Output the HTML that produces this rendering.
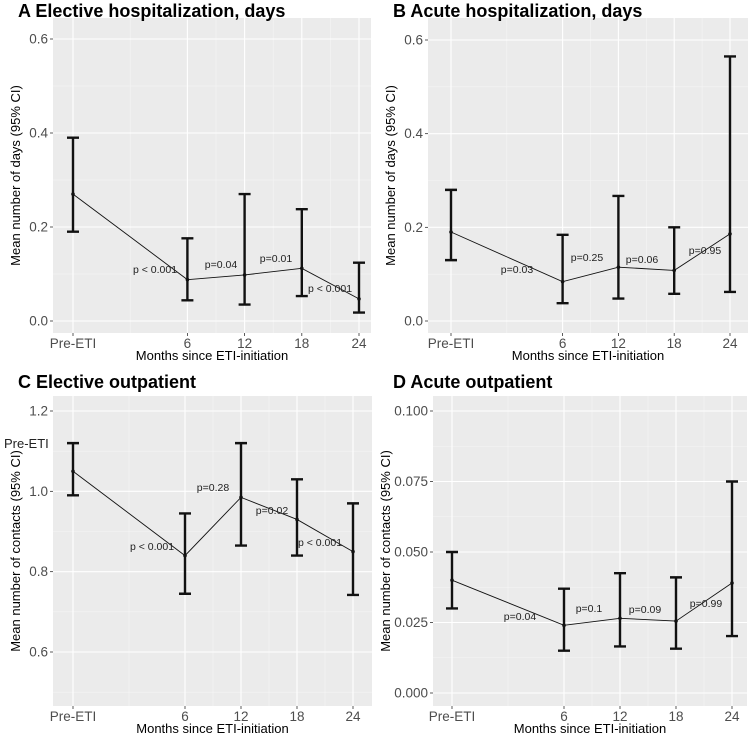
<!DOCTYPE html>
<html><head><meta charset="utf-8"><style>
body{margin:0;background:#fff;width:752px;height:737px;overflow:hidden}
svg text{font-family:"Liberation Sans",sans-serif}
</style></head><body>
<svg id="chart" width="752" height="737" viewBox="0 0 752 737" xmlns="http://www.w3.org/2000/svg"></svg>
<script>
const months = [-6, 6, 12, 18, 24];
const xTickLabels = ["Pre-ETI", "6", "12", "18", "24"];
const titles = ["A Elective hospitalization, days", "B Acute hospitalization, days", "C Elective outpatient", "D Acute outpatient"];
const yTitles = ["Mean number of days (95% CI)", "Mean number of days (95% CI)", "Mean number of contacts (95% CI)", "Mean number of contacts (95% CI)"];
const meanA = [0.27, 0.088, 0.098, 0.112, 0.047];
const lowA = [0.19, 0.044, 0.035, 0.053, 0.018];
const highA = [0.39, 0.176, 0.27, 0.238, 0.124];
const meanB = [0.19, 0.084, 0.115, 0.108, 0.186];
const lowB = [0.13, 0.038, 0.048, 0.058, 0.062];
const highB = [0.28, 0.184, 0.267, 0.2, 0.565];
const meanC = [1.05, 0.84, 0.985, 0.93, 0.85];
const lowC = [0.99, 0.745, 0.865, 0.84, 0.742];
const highC = [1.12, 0.945, 1.12, 1.03, 0.97];
const meanD = [0.04, 0.024, 0.0265, 0.0255, 0.039];
const lowD = [0.030, 0.015, 0.0165, 0.0157, 0.0202];
const highD = [0.050, 0.037, 0.0425, 0.041, 0.075];
const yTicksAB = [0, 0.2, 0.4, 0.6];
const yTickLabelsAB = ["0.0", "0.2", "0.4", "0.6"];
const yTicksC = [0.6, 0.8, 1.0, 1.2];
const yTickLabelsC = ["0.6", "0.8", "1.0", "1.2"];
const yTicksD = [0, 0.025, 0.05, 0.075, 0.1];
const yTickLabelsD = ["0.000", "0.025", "0.050", "0.075", "0.100"];
const pLabelsA = ["p < 0.001", "p=0.04", "p=0.01", "p < 0.001"];
const pLabelsB = ["p=0.03", "p=0.25", "p=0.06", "p=0.95"];
const pLabelsC = ["p < 0.001", "p=0.28", "p=0.02", "p < 0.001"];
const pLabelsD = ["p=0.04", "p=0.1", "p=0.09", "p=0.99"];

const NS = "http://www.w3.org/2000/svg";
const svg = document.getElementById("chart");
function mk(tag, attrs, parent, text) {
  const e = document.createElementNS(NS, tag);
  for (const k in attrs) e.setAttribute(k, attrs[k]);
  if (text !== undefined) e.textContent = text;
  (parent || svg).appendChild(e);
  return e;
}

const panels = [
  {id:"a", title:titles[0], yt:yTitles[0], mean:meanA, low:lowA, high:highA, ticks:yTicksAB, tl:yTickLabelsAB, p:pLabelsA,
   L:53, R:371, T:18, B:333, x0:73, x1:359, v0:0, py0:321, v1:0.6, py1:39, tx:18, ty:17,
   pPos:[[155,273],[221,268],[276,262],[330,292]]},
  {id:"b", title:titles[1], yt:yTitles[1], mean:meanB, low:lowB, high:highB, ticks:yTicksAB, tl:yTickLabelsAB, p:pLabelsB,
   L:428, R:748, T:18, B:333, x0:451, x1:730, v0:0, py0:321, v1:0.6, py1:40, tx:393, ty:17,
   pPos:[[517,273],[587,261],[642,263],[705,254]]},
  {id:"c", title:titles[2], yt:yTitles[2], mean:meanC, low:lowC, high:highC, ticks:yTicksC, tl:yTickLabelsC, p:pLabelsC,
   L:53, R:372, T:396, B:706, x0:73, x1:353, v0:0.6, py0:652, v1:1.2, py1:411, tx:18, ty:388,
   pPos:[[152,550],[213,491],[272,514],[320,546]]},
  {id:"d", title:titles[3], yt:yTitles[3], mean:meanD, low:lowD, high:highD, ticks:yTicksD, tl:yTickLabelsD, p:pLabelsD,
   L:433, R:747, T:396, B:706, x0:452, x1:732, v0:0, py0:693, v1:0.1, py1:411, tx:393, ty:388,
   pPos:[[520,620],[589,612],[645,613],[706,607]]}
];

panels.forEach(P => {
  const g = mk("g", {});
  
  
  const xs = m => P.x0 + (m - months[0]) / (months[4] - months[0]) * (P.x1 - P.x0);
  const ys = v => P.py0 + (v - P.v0) / (P.v1 - P.v0) * (P.py1 - P.py0);
  const bg = mk("rect", {x:P.L, y:P.T, width:P.R-P.L, height:P.B-P.T, fill:"#ebebeb"}, g);
  
  
  const step = P.ticks[1] - P.ticks[0];
  for (let i = 0; i < P.ticks.length; i++) {
    const y = ys(P.ticks[i] + step/2);
    if (y > P.T && y < P.B) mk("line", {x1:P.L, x2:P.R, y1:y, y2:y, stroke:"#f5f5f5", "stroke-width":0.6}, g);
    const y2 = ys(P.ticks[0] - step/2);
    if (i === 0 && y2 > P.T && y2 < P.B) mk("line", {x1:P.L, x2:P.R, y1:y2, y2:y2, stroke:"#f5f5f5", "stroke-width":0.6}, g);
  }
  for (let i = 0; i < months.length - 1; i++) {
    const x = xs((months[i] + months[i+1]) / 2);
    mk("line", {x1:x, x2:x, y1:P.T, y2:P.B, stroke:"#f5f5f5", "stroke-width":0.6}, g);
  }
  P.ticks.forEach((v, i) => {
    const y = ys(v);
    mk("line", {x1:P.L, x2:P.R, y1:y, y2:y, stroke:"#fff", "stroke-width":1.1}, g);
    mk("line", {x1:P.L-3, x2:P.L, y1:y, y2:y, stroke:"#333", "stroke-width":0.8}, g);
    const t = mk("text", {x:P.L-5, y:y+4.5, "text-anchor":"end", "font-size":13.5, fill:"#4d4d4d"}, g, P.tl[i]);
    
    
  });
  months.forEach((m, i) => {
    const x = xs(m);
    mk("line", {x1:x, x2:x, y1:P.T, y2:P.B, stroke:"#fff", "stroke-width":1.1}, g);
    mk("line", {x1:x, x2:x, y1:P.B, y2:P.B+3, stroke:"#333", "stroke-width":0.8}, g);
    const t = mk("text", {x:x, y:P.B+15, "text-anchor":"middle", "font-size":13.5, fill:"#4d4d4d"}, g, xTickLabels[i]);
    
    
  });
  const pts = months.map((m, i) => xs(m) + "," + ys(P.mean[i])).join(" ");
  const ln = mk("polyline", {points:pts, fill:"none", stroke:"#111", "stroke-width":0.9}, g);
  
  
  months.forEach((m, i) => {
    const x = xs(m), yl = ys(P.low[i]), yh = ys(P.high[i]);
    const eb = mk("path", {d:`M${x-6},${yh}H${x+6}M${x},${yh}V${yl}M${x-6},${yl}H${x+6}`, stroke:"#111", "stroke-width":2.4, fill:"none"}, g);
    
    
    const pt = mk("circle", {cx:x, cy:ys(P.mean[i]), r:1.8, fill:"#111"}, g);
    
    
  });
  P.p.forEach((s, i) => {
    const t = mk("text", {x:P.pPos[i][0], y:P.pPos[i][1], "text-anchor":"middle", "font-size":10.5, fill:"#222"}, g, s);
    
    
  });
  const tt = mk("text", {x:P.tx, y:P.ty, "font-size":18, "font-weight":"bold", fill:"#000"}, g, P.title);
  
  
  const xt = mk("text", {x:(P.L+P.R)/2, y:P.B+27, "text-anchor":"middle", "font-size":13, fill:"#000"}, g, "Months since ETI-initiation");
  
  
  const cx = P.L - (P.id === "d" ? 43 : 33), cy = (P.T + P.B) / 2;
  const yt = mk("text", {x:cx, y:cy, "text-anchor":"middle", "font-size":13, fill:"#000", transform:`rotate(-90 ${cx} ${cy})`}, g, P.yt);
  
  
});
const stray = mk("text", {x:4, y:448, "font-size":13, fill:"#222"}, svg, "Pre-ETI");


</script>
</body></html>
